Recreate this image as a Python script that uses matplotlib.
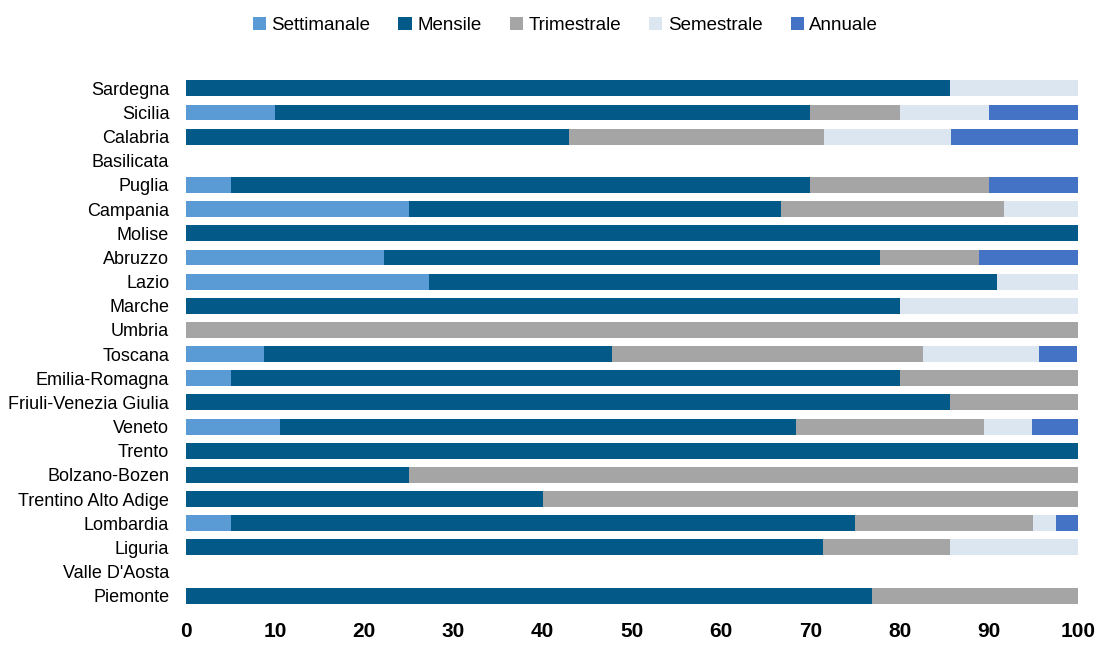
import matplotlib.pyplot as plt
import numpy as np

regioni = ['Sardegna', 'Sicilia', 'Calabria', 'Basilicata', 'Puglia', 'Campania',
           'Molise', 'Abruzzo', 'Lazio', 'Marche', 'Umbria', 'Toscana',
           'Emilia-Romagna', 'Friuli-Venezia Giulia', 'Veneto', 'Trento',
           'Bolzano-Bozen', 'Trentino Alto Adige', 'Lombardia', 'Liguria',
           "Valle D'Aosta", 'Piemonte']

settimanale = [0, 10, 0, 0, 5, 25, 0, 22.2, 27.3, 0, 0, 8.7,
               5, 0, 10.5, 0, 0, 0, 5, 0, 0, 0]
mensile = [85.7, 60, 42.9, 0, 65, 41.7, 100, 55.6, 63.6, 80, 0, 39.1,
           75, 85.7, 57.9, 100, 25, 40, 70, 71.4, 0, 76.9]
trimestrale = [0, 10, 28.6, 0, 20, 25, 0, 11.1, 0, 0, 100, 34.8,
               20, 14.3, 21.1, 0, 75, 60, 20, 14.3, 0, 23.1]
semestrale = [14.3, 10, 14.3, 0, 0, 8.3, 0, 0, 9.1, 20, 0, 13.0,
              0, 0, 5.3, 0, 0, 0, 2.5, 14.3, 0, 0]
annuale = [0, 10, 14.3, 0, 10, 0, 0, 11.1, 0, 0, 0, 4.3,
           0, 0, 5.3, 0, 0, 0, 2.5, 0, 0, 0]

serie = ['Settimanale', 'Mensile', 'Trimestrale', 'Semestrale', 'Annuale']
colori = ['#5B9BD5', '#035A88', '#A5A5A5', '#DCE6F1', '#4472C4']

plt.rcParams['font.family'] = ['Liberation Sans', 'DejaVu Sans']

fig = plt.figure(figsize=(11, 6.46), dpi=100)
ax = fig.add_axes([0.169, 0.059, 0.811, 0.823])

y = np.arange(len(regioni))
left = np.zeros(len(regioni))
for nome, vals, col in zip(serie, [settimanale, mensile, trimestrale, semestrale, annuale], colori):
    vals = np.array(vals)
    ax.barh(y, vals, left=left, height=0.66, color=col, label=nome)
    left += vals

ax.set_ylim(len(regioni) - 0.5, -0.5)
ax.set_xlim(0, 100)
ax.set_yticks(y)
ax.set_yticklabels(regioni, fontsize=13)
ax.set_xticks(range(0, 101, 10))
ax.tick_params(axis='x', labelsize=15, length=0, pad=10)
ax.tick_params(axis='y', length=0, pad=12)
for lab in ax.get_xticklabels():
    lab.set_fontweight('bold')
for s in ax.spines.values():
    s.set_visible(False)

fig.legend(loc='upper center', bbox_to_anchor=(0.514, 1.0), ncol=5, frameon=False,
           fontsize=13.5, handlelength=0.7, handleheight=0.7, handletextpad=0.3,
           columnspacing=1.5)

plt.savefig('out.png')
plt.close()
